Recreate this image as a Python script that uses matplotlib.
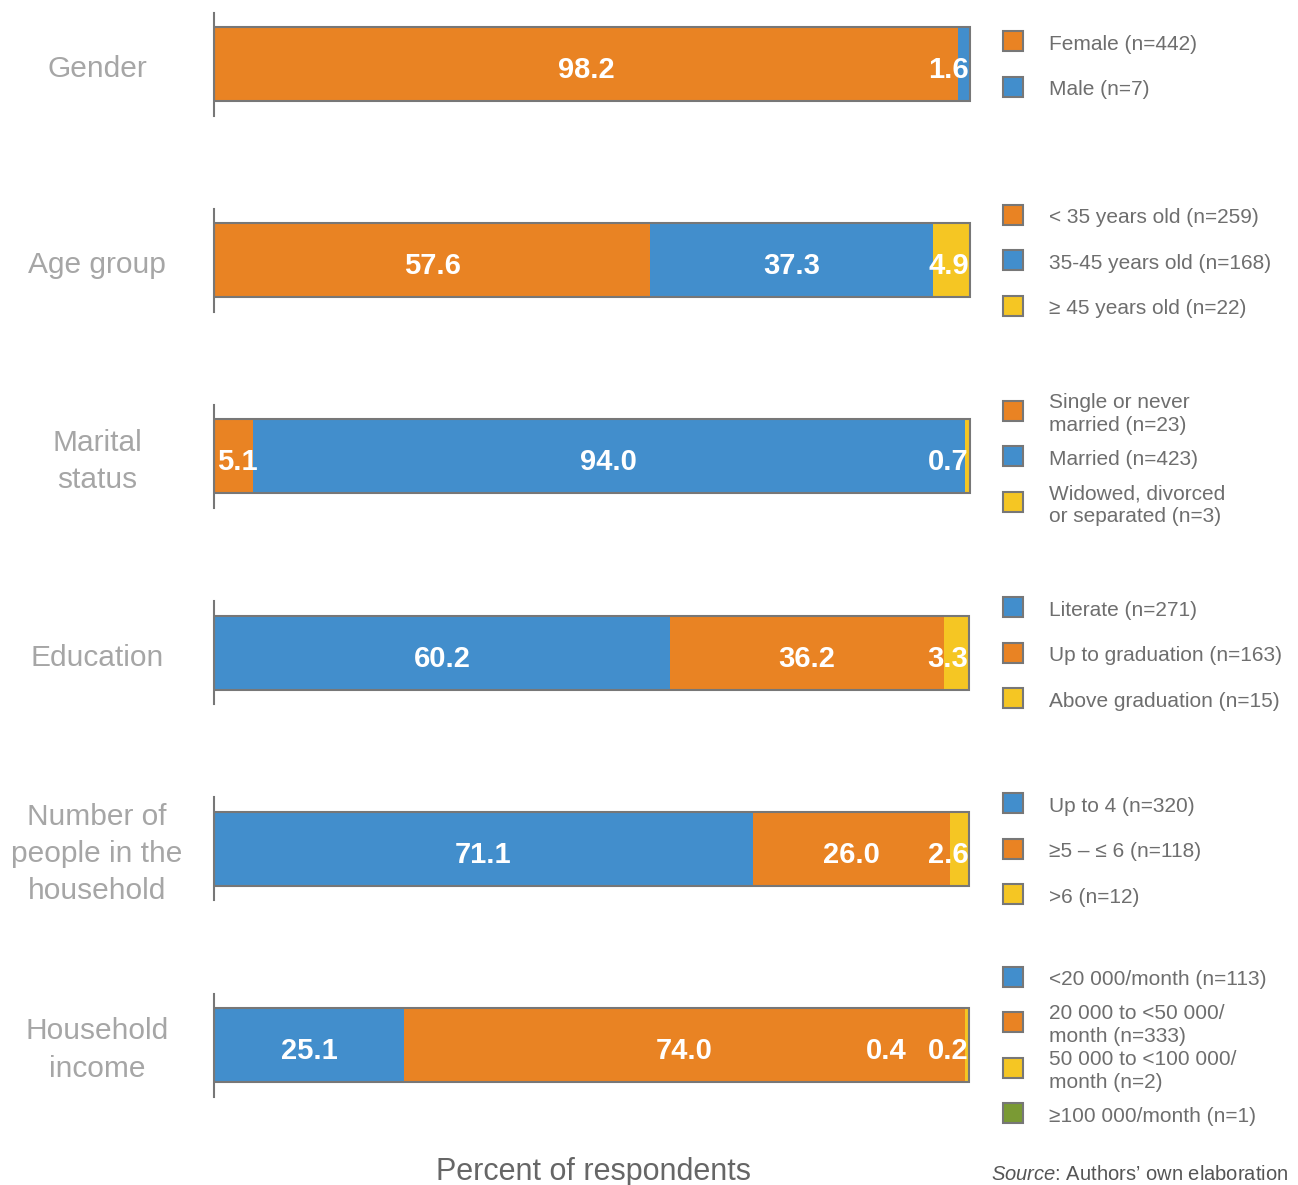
import matplotlib
matplotlib.use("Agg")
import matplotlib.pyplot as plt
from matplotlib.patches import Rectangle

plt.rcParams['font.family'] = ['Liberation Sans', 'DejaVu Sans']
plt.rcParams['mathtext.fontset'] = 'custom'
plt.rcParams['mathtext.it'] = 'Liberation Sans:italic'
plt.rcParams['mathtext.rm'] = 'Liberation Sans'

# colores
ORANGE = '#E98323'
BLUE = '#428ECC'
YELLOW = '#F5C623'
GREEN = '#7A9A34'
EDGE = '#777777'

# datos
groups = ["Gender", "Age group", "Marital\nstatus", "Education",
          "Number of\npeople in the\nhousehold", "Household\nincome"]

gender_vals = [98.2, 1.6]
age_vals = [57.6, 37.3, 4.9]
marital_vals = [5.1, 94.0, 0.7]
education_vals = [60.2, 36.2, 3.3]
household_vals = [71.1, 26.0, 2.6]
income_vals = [25.1, 74.0, 0.4, 0.2]

gender_labels = ["Female (n=442)", "Male (n=7)"]
age_labels = ["< 35 years old (n=259)", "35-45 years old (n=168)", "\u2265 45 years old (n=22)"]
marital_labels = ["Single or never\nmarried (n=23)", "Married (n=423)",
                  "Widowed, divorced\nor separated (n=3)"]
education_labels = ["Literate (n=271)", "Up to graduation (n=163)", "Above graduation (n=15)"]
household_labels = ["Up to 4 (n=320)", "\u22655 \u2013 \u2264 6 (n=118)", ">6 (n=12)"]
income_labels = ["<20 000/month (n=113)", "20 000 to <50 000/\nmonth (n=333)",
                 "50 000 to <100 000/\nmonth (n=2)", "\u2265100 000/month (n=1)"]

all_vals = [gender_vals, age_vals, marital_vals, education_vals, household_vals, income_vals]
all_labels = [gender_labels, age_labels, marital_labels, education_labels,
              household_labels, income_labels]
all_colors = [[ORANGE, BLUE],
              [ORANGE, BLUE, YELLOW],
              [ORANGE, BLUE, YELLOW],
              [BLUE, ORANGE, YELLOW],
              [BLUE, ORANGE, YELLOW],
              [BLUE, ORANGE, YELLOW, GREEN]]

W, H = 1298, 1185
fig = plt.figure(figsize=(W / 100, H / 100), dpi=100)

def fx(x):
    return x / W

def fy(y):
    return 1 - y / H

bar_left, bar_w = 214, 757.5
first_c, step = 64, 196.2
ax_h = 103

for i, (name, vals, labs, cols) in enumerate(zip(groups, all_vals, all_labels, all_colors)):
    c = first_c + i * step
    ax = fig.add_axes([fx(bar_left), fy(c + ax_h / 2), bar_w / W, ax_h / H])
    ax.set_xlim(0, 100)
    ax.set_ylim(-0.5, 0.5)
    for s in ['top', 'right', 'bottom']:
        ax.spines[s].set_visible(False)
    ax.spines['left'].set_color(EDGE)
    ax.spines['left'].set_linewidth(1.5)
    ax.set_xticks([])
    ax.set_yticks([])
    ax.patch.set_alpha(0)

    # segmentos
    left = 0
    lefts = []
    for v, col in zip(vals, cols):
        ax.barh(0, v, left=left, height=0.72, color=col, edgecolor='none')
        lefts.append(left)
        left += v
    total = left
    ax.barh(0, total, height=0.72, fill=False, edgecolor=EDGE, linewidth=1.5)

    # etiquetas de valores
    pct_px = bar_w / 100
    ty = -6 / ax_h
    k = 0
    for j in range(len(vals) - 1, -1, -1):
        v = vals[j]
        txt = f"{v:.1f}"
        if v >= 10:
            ax.text(lefts[j] + v / 2, ty, txt, ha='center', va='center',
                    color='white', fontsize=21, fontweight='bold')
        elif j == 0:
            ax.text(lefts[j] + 3 / pct_px, ty, txt, ha='left', va='center',
                    color='white', fontsize=21, fontweight='bold')
        else:
            ax.text(total - (1 + 62 * k) / pct_px, ty, txt, ha='right', va='center',
                    color='white', fontsize=21, fontweight='bold')
            k += 1

    # nombre de la categoria
    fig.text(fx(97), fy(c + 5), name, ha='center', va='center', fontsize=21.5,
             color='#A6A6A6', linespacing=1.42)

    # leyenda manual
    n = len(labs)
    for j, (lab, col) in enumerate(zip(labs, cols)):
        yy = c + (j - (n - 1) / 2) * 45.5
        fig.add_artist(Rectangle((fx(1003), fy(yy + 10)), 20 / W, 20 / H,
                                 transform=fig.transFigure, facecolor=col,
                                 edgecolor=EDGE, linewidth=1.5))
        fig.text(fx(1049), fy(yy + 3), lab, ha='left', va='center', fontsize=15,
                 color='#6E6E6E', linespacing=1.25)

fig.text(fx(593), fy(1172), "Percent of respondents", ha='center', va='center',
         fontsize=22, color='#666666')
fig.text(fx(1288), fy(1174), "$\\it{Source}$: Authors\u2019 own elaboration",
         ha='right', va='center', fontsize=14.5, color='#555555')

fig.savefig("out.png", dpi=100)
